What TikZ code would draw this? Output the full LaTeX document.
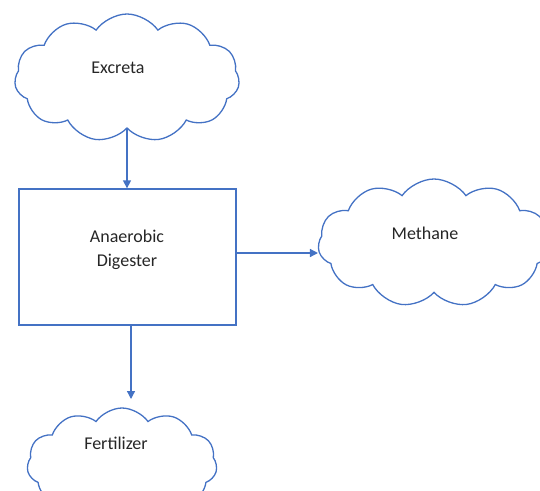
\documentclass[tikz,border=0pt]{standalone}
\usepackage{fontspec}
\setmainfont{Carlito}
\usetikzlibrary{shapes.symbols,arrows.meta}
\definecolor{lineblue}{HTML}{4472C4}
\definecolor{txt}{HTML}{262626}
\tikzset{
  puff/.style={cloud, draw=lineblue, line width=1.3pt, cloud puffs=11,
    cloud puff arc=110, inner sep=0pt},
  label/.style={text=txt, font=\fontsize{18}{24}\selectfont, align=center},
  flow/.style={draw=lineblue, line width=1.3pt, -{Triangle[length=8pt,width=8pt]}},
  boxed/.style={draw=lineblue, line width=1.3pt, minimum width=217pt, minimum height=136pt}
}
\begin{document}
\begin{tikzpicture}[x=1pt,y=-1pt]
  \useasboundingbox (0,0) rectangle (540,490);
  % clouds
  \node[puff, minimum width=225pt, minimum height=128pt] (exc) at (127,78) {};
  \node[label] (exct) at (118,68) {Excreta};
  \node[puff, minimum width=232pt, minimum height=128pt] (met) at (434,243) {};
  \node[label] (mett) at (425,233) {Methane};
  \node[puff, minimum width=190pt, minimum height=112pt] (fer) at (122,464) {};
  \node[label] (fert) at (116,443) {Fertilizer};
  % digester box
  \node[boxed] (dig) at (127.5,257) {};
  \node[label] (digt) at (127,250) {Anaerobic\\Digester};
  % connectors
  \draw[flow] (exc.south -| 127,0) -- (dig.north -| 127,0);
  \draw[flow] (dig.east |- 0,253) -- (met.west |- 0,253);
  \draw[flow] (dig.south -| 131,0) -- (131,399);
\end{tikzpicture}
\end{document}
